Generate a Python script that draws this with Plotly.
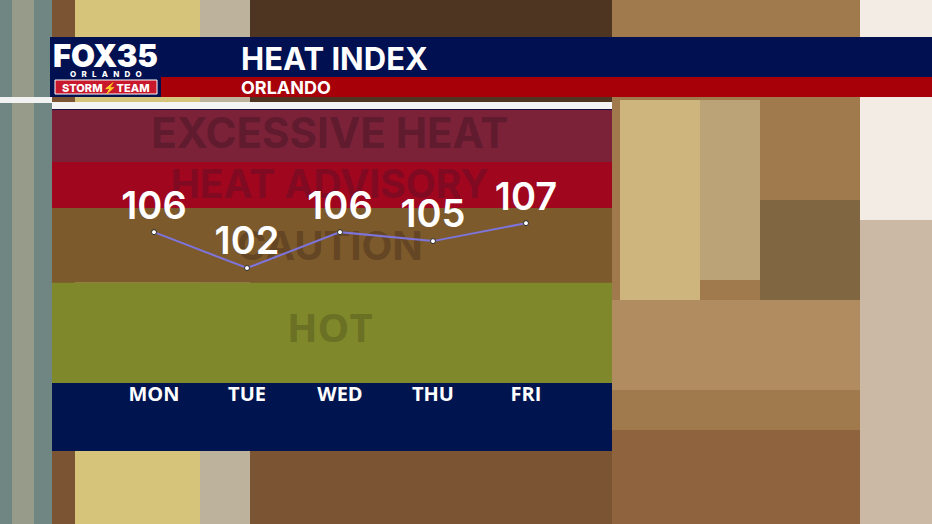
import plotly.graph_objects as go

# forecast data
days = ["MON", "TUE", "WED", "THU", "FRI"]
heat_index = [106, 102, 106, 105, 107]

# heat-index categories (bottom to top) and their upper bounds
band_names = ["HOT", "CAUTION", "HEAT ADVISORY", "EXCESSIVE HEAT"]
band_tops = [100.4, 108.7, 113.8, 119.6]
band_floor = 89.2

band_fill = ["#7f882a", "#7d5a2b", "#a1061f", "#7b2239"]
band_text = ["#6a7024", "#654624", "#800a22", "#601b2e"]
band_font = ["Open Sans", "Inter", "Inter", "Inter"]
band_size = [40, 40, 39, 42]
# where each label sits inside its band (axis units)
label_y = [94.85, 104.05, 110.85, 116.55]

W, H = 932, 524
L, R, T, B = 52, 612, 110, 383  # plot area in pixels


def px(x):
    return (x - L) / (R - L)


def py(y):
    return (B - y) / (B - T)


def rect(x0, y0, x1, y1, color, opacity=1.0):
    return dict(type="rect", xref="paper", yref="paper", layer="below",
                x0=px(x0), x1=px(x1), y0=py(y1), y1=py(y0),
                fillcolor=color, opacity=opacity, line_width=0)


def label(x, y, text, size, weight=700, anchor="center"):
    return dict(x=px(x), y=py(y), xref="paper", yref="paper",
                xanchor=anchor, yanchor="middle", text=text, showarrow=False,
                font=dict(family="Inter", size=size, color="white",
                          weight=weight))


shapes = []
# rough stand-in for the blurred photo behind the graphic
shapes += [
    rect(0, 0, W, H, "#7a5433"),
    rect(0, 0, 52, H, "#6f8682"),
    rect(12, 0, 34, H, "#b3ab90", 0.6),
    rect(75, 0, 200, H, "#d6c47a"),
    rect(200, 0, 250, H, "#bdb39d"),
    rect(250, 0, 620, 110, "#4d3522"),
    rect(612, 0, 860, H, "#a07a4c"),
    rect(620, 100, 700, 300, "#d8c48a", 0.8),
    rect(700, 100, 760, 280, "#c8b48a", 0.7),
    rect(760, 200, 860, 300, "#6b5a3a", 0.6),
    rect(612, 300, 860, 390, "#b8946a", 0.7),
    rect(860, 0, W, 220, "#f2ece4"),
    rect(860, 220, W, H, "#cbb9a6"),
    rect(612, 430, 860, H, "#8b5e3a", 0.8),
    rect(0, 97, 52, 103, "#f2f2f2"),
]
# header bars
shapes += [
    rect(50, 37, W, 77, "#001050"),
    rect(160, 77, W, 97, "#a80008"),
    rect(50, 37, 161, 97, "#001050"),
    rect(55, 80, 157, 94, "#c8182c"),
    dict(type="rect", xref="paper", yref="paper", layer="below",
         x0=px(55), x1=px(157), y0=py(94), y1=py(80),
         line=dict(color="white", width=1), fillcolor="rgba(0,0,0,0)"),
]
# panel
shapes += [
    rect(L, 102, R, 109, "#f4f4f4"),
    rect(L, 109, R, 111, "#1a1040"),
    rect(L, B, R, 451, "#00154f"),
]
lo = band_floor
for top, fill in zip(band_tops, band_fill):
    shapes.append(dict(type="rect", xref="paper", yref="y", layer="below",
                       x0=0, x1=1, y0=lo, y1=top,
                       fillcolor=fill, line_width=0))
    lo = top

annotations = [
    label(239, 58, "HEAT INDEX", 31, anchor="left"),
    label(239, 87.5, "ORLANDO", 18, anchor="left"),
    label(105.5, 55, "FOX35", 31, weight=900),
    label(105.5, 73.5, "O   R   L   A   N   D   O", 8, weight=800),
    label(106, 87.5, "STORM⚡TEAM", 11, weight=800),
]

fig = go.Figure()

# band names sit behind the line and its labels
fig.add_trace(go.Scatter(
    x=[1.89] * len(band_names), y=label_y,
    mode="text", text=band_names, textposition="middle center",
    textfont=dict(family=band_font, size=band_size, color=band_text,
                  weight=700),
    cliponaxis=False, hoverinfo="skip",
))

fig.add_trace(go.Scatter(
    x=list(range(len(days))), y=heat_index,
    mode="lines+markers+text",
    text=[str(v) for v in heat_index],
    textposition="top center",
    textfont=dict(family="Inter", size=38, color="white", weight=600),
    line=dict(color="#7d74dc", width=2),
    marker=dict(size=5, color="white", line=dict(color="#2a2a2a", width=1)),
    cliponaxis=False,
    hoverinfo="skip",
))

fig.update_layout(
    width=W, height=H,
    margin=dict(l=L, r=W - R, t=T, b=H - B),
    paper_bgcolor="#7a5433",
    plot_bgcolor="rgba(0,0,0,0)",
    showlegend=False,
    shapes=shapes,
    annotations=annotations,
    xaxis=dict(range=[-1.097, 4.925], tickmode="array",
               tickvals=list(range(len(days))), ticktext=days,
               showgrid=False, zeroline=False, showline=False, ticks="",
               ticklabelstandoff=-3,
               tickfont=dict(family="Open Sans", size=20, color="white",
                             weight=700),
               fixedrange=True),
    yaxis=dict(range=[band_floor, band_tops[-1]], visible=False,
               fixedrange=True),
)

fig.write_html("out.html", config={"displayModeBar": False},
               post_script="document.body.style.margin='0';")
